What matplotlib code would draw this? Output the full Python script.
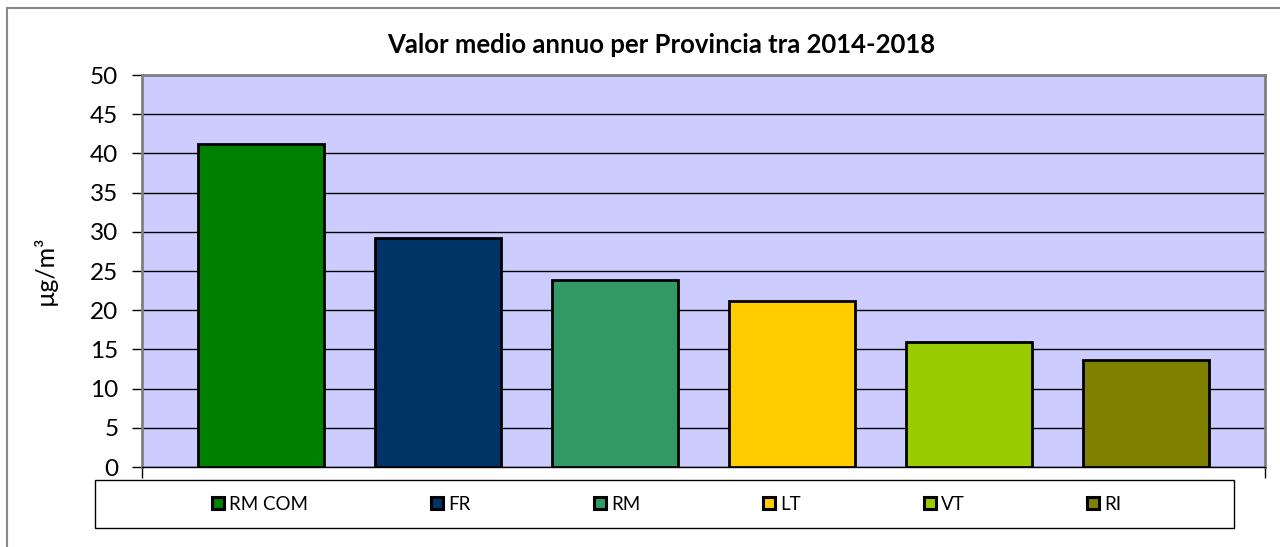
import matplotlib
matplotlib.use("Agg")
import matplotlib.pyplot as plt
from matplotlib.patches import Rectangle

categories = ["RM COM", "FR", "RM", "LT", "VT", "RI"]
values = [41.2, 29.2, 23.9, 21.2, 16.0, 13.7]
colors = ["#008000", "#003366", "#339966", "#FFCC00", "#99CC00", "#808000"]
yticks = [0, 5, 10, 15, 20, 25, 30, 35, 40, 45, 50]
title = "Valor medio annuo per Provincia tra 2014-2018"
ylabel = "µg/m³"

plt.rcParams['font.family'] = ['Lato', 'DejaVu Sans']

W, H = 1280, 547
fig = plt.figure(figsize=(W / 100, H / 100), dpi=100)

# outer chart frame
fig.patches.append(Rectangle((7 / W, -0.1), 1.2, 1 - 8 / H + 0.1, transform=fig.transFigure,
                             fill=False, edgecolor="#888888", lw=1.5, zorder=0))

x0, x1 = 142, 1265
y0, y1 = 467, 75
ax = fig.add_axes([x0 / W, (H - y0) / H, (x1 - x0) / W, (y0 - y1) / H])
ax.set_facecolor("#CCCCFF")

n = len(categories)
xs = list(range(n))
margin = 119 / 177
bars = ax.bar(xs, values, width=0.712, color=colors, edgecolor="black", linewidth=2, zorder=3)

ax.set_xlim(-margin, n - 1 + margin)
ax.set_ylim(0, 50)
ax.set_yticks(yticks)
ax.set_yticklabels([str(t) for t in yticks], fontsize=17.5)
ax.tick_params(axis='y', length=7, width=1, color="black", pad=10)
ax.yaxis.grid(True, color="black", lw=1, zorder=1)
ax.set_axisbelow(True)
ax.set_xticks([-margin, n - 1 + margin])
ax.set_xticklabels([])
ax.tick_params(axis='x', length=8, width=1, color="black")

for s in ["left", "top", "right"]:
    ax.spines[s].set_color("#808080")
    ax.spines[s].set_linewidth(2)
ax.spines["bottom"].set_color("black")
ax.spines["bottom"].set_linewidth(1)

fig.text(661 / W, 1 - 45 / H, title, ha="center", va="center", fontsize=18.5, fontweight="bold")
fig.text(45 / W, 1 - 270 / H, ylabel, ha="center", va="center", rotation=90, fontsize=18)

# legend box
lx0, ly0, lx1, ly1 = 95, 480, 1234, 528
fig.patches.append(Rectangle((lx0 / W, (H - ly1) / H), (lx1 - lx0) / W, (ly1 - ly0) / H,
                             transform=fig.transFigure, facecolor="white",
                             edgecolor="black", lw=1, zorder=1))
fs = 13.5
fpx = fs * 100 / 72
handles = [Rectangle((0, 0), 1, 1, facecolor=c, edgecolor="black", lw=2.2) for c in colors]
leg = fig.legend(handles, categories, loc="center",
                 bbox_to_anchor=(667 / W, 1 - 504 / H),
                 ncol=n, fontsize=fs, frameon=False,
                 handlelength=12 / fpx, handleheight=12 / fpx, handletextpad=5 / fpx,
                 borderaxespad=0, borderpad=0, columnspacing=123 / fpx)
leg.set_zorder(5)

fig.savefig("out.png", dpi=100)
